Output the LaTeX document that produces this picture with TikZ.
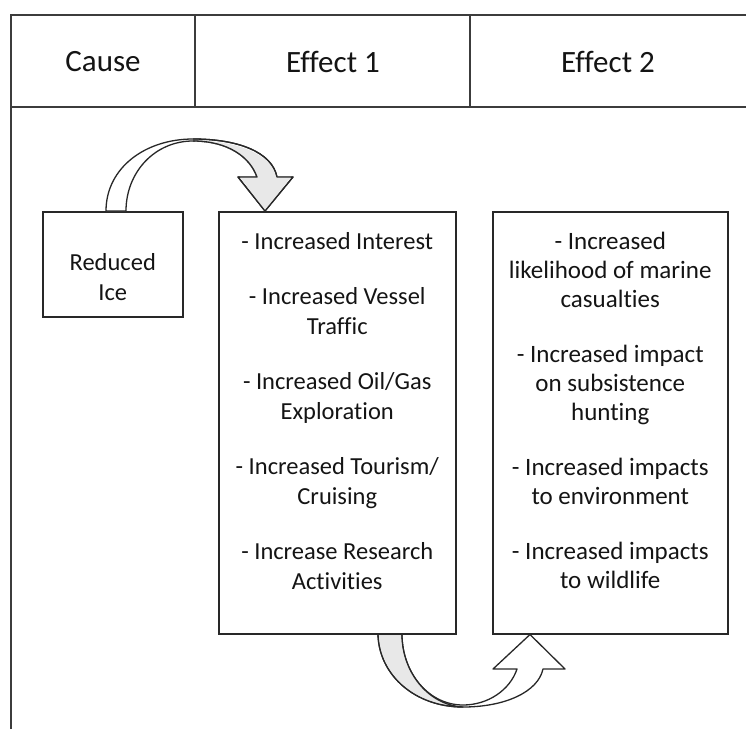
\documentclass[tikz,border=0pt]{standalone}
\usepackage{fontspec}
\setmainfont{Carlito}[Ligatures={NoCommon}]
\usepackage{tikz}
\usetikzlibrary{positioning, calc}
\definecolor{framecolor}{RGB}{60,60,60}
\definecolor{boxcolor}{RGB}{40,40,40}
\definecolor{inkcolor}{RGB}{20,20,20}
\definecolor{shadecolor}{RGB}{232,232,232}

\begin{document}
\begin{tikzpicture}[
    x=1pt, y=-1pt,
    frame/.style={draw=framecolor, line width=1.9pt},
    stage/.style={draw=boxcolor, line width=1.5pt, anchor=north west, inner sep=0pt},
    heading/.style={font=\fontsize{31}{36}\selectfont, text=inkcolor},
    items/.style={font=\fontsize{24.5}{30}\selectfont, text=inkcolor, align=center, anchor=north, inner sep=0pt},
    blockarrow/.style={draw=boxcolor, line width=1.3pt, fill=white, line join=round}
]
    \useasboundingbox (0,0) rectangle (746,729);

    % Header row
    \draw[frame] (11,729) -- (11,15) -- (746,15);
    \draw[frame] (11,107) -- (746,107);
    \draw[frame] (195,15) -- (195,107);
    \draw[frame] (470,15) -- (470,107);
    \node[heading] (cause) at (103,62) {Cause};
    \node[heading] (effecta) at (333,62) {Effect 1};
    \node[heading] (effectb) at (608,62) {Effect 2};

    % Boxes
    \node[stage, minimum width=140pt, minimum height=105pt] (ice) at (42,211) {};
    \node[stage, minimum width=237pt, minimum height=422pt] (first) at (218,211) {};
    \node[stage, minimum width=235pt, minimum height=422pt] (second) at (492,211) {};

    % Box texts
    \node[items] (icetext) at ($(ice.north)+(0,42)$) {Reduced\\Ice};
    \node[items] (firsttext) at ($(first.north)+(0,21)$) {%
        - Increased Interest\\[25pt]
        - Increased Vessel\\Traffic\\[25pt]
        - Increased Oil/Gas\\Exploration\\[25pt]
        - Increased Tourism/\\Cruising\\[25pt]
        - Increase Research\\Activities};
    \node[items, font=\fontsize{25}{29}\selectfont] (secondtext) at ($(second.north)+(0,21)$) {%
        - Increased\\likelihood of marine\\casualties\\[26pt]
        - Increased impact\\on subsistence\\hunting\\[26pt]
        - Increased impacts\\to environment\\[26pt]
        - Increased impacts\\to wildlife};

    % Curved arrow: cause -> effect 1
    \coordinate (c1) at ($(ice.north west)+(64,0)$);
    \coordinate (c2) at ($(ice.north west)+(84,0)$);
    \coordinate (ctip) at ($(first.north west)+(47,0)$);
    \draw[blockarrow] (c1) .. controls (106,168) and (145,139) .. (193,139)
        .. controls (238,139) and (272,152) .. (277,177) -- (293,177) -- (ctip)
        -- (238,177) -- (257,177) .. controls (250,157) and (228,141) .. (193,141)
        .. controls (155,141) and (126,172) .. (c2) -- cycle;
    \fill[shadecolor] (195,141.6) .. controls (228,142) and (249,157) .. (256.5,176.3)
        -- (239.5,176.3) -- (ctip) -- (291.5,176.3) -- (276,176.3)
        .. controls (272,156) and (240,140.6) .. (195,140.6) -- cycle;
    \draw[blockarrow, fill=none] (193,139) .. controls (238,139) and (272,152) .. (277,177)
        -- (293,177) -- (ctip) -- (238,177) -- (257,177)
        .. controls (250,157) and (228,141) .. (193,141);

    % Curved arrow: effect 1 -> effect 2
    \coordinate (d1) at ($(first.south west)+(160,0)$);
    \coordinate (d2) at ($(first.south west)+(184,0)$);
    \coordinate (dtip) at ($(second.south west)+(38,0)$);
    \draw[blockarrow] (d1) .. controls (379,675) and (415,707) .. (463,707)
        .. controls (505,707) and (538,692) .. (543,669) -- (565,669) -- (dtip)
        -- (493,669) -- (517,669) .. controls (510,690) and (488,705) .. (463,705)
        .. controls (428,705) and (402,672) .. (d2) -- cycle;
    \fill[shadecolor] ($(d1)+(1,1)$) .. controls (380,674) and (415,706) .. (460,706)
        .. controls (428,704.5) and (402,672) .. ($(d2)+(-1,1)$) -- cycle;
    \draw[blockarrow, fill=none] (d1) .. controls (379,675) and (415,707) .. (463,707)
        .. controls (428,705) and (402,672) .. (d2);
\end{tikzpicture}
\end{document}
